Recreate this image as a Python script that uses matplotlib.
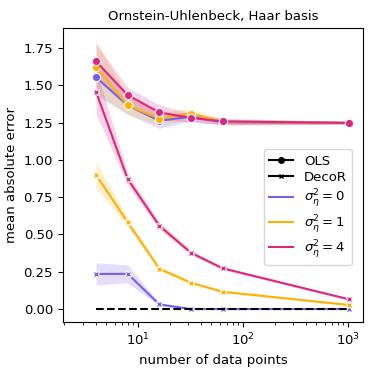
import matplotlib
matplotlib.use("Agg")
import matplotlib.pyplot as plt
from matplotlib.lines import Line2D
import numpy as np

plt.rcParams['font.size'] = 9.5

n_points = [4, 8, 16, 32, 64, 1024]
sigmas = ['0', '1', '4']
colors = ['#785EF0', '#FFB000', '#DC267F']

# OLS mean absolute error and band half-widths
ols_mean = {
    '0': [1.553, 1.365, 1.262, 1.29, 1.252, 1.248],
    '1': [1.62, 1.365, 1.276, 1.311, 1.255, 1.248],
    '4': [1.66, 1.434, 1.318, 1.282, 1.258, 1.248],
}
ols_err = {
    '0': [0.12, 0.06, 0.05, 0.03, 0.02, 0.01],
    '1': [0.17, 0.06, 0.05, 0.03, 0.02, 0.01],
    '4': [0.12, 0.05, 0.05, 0.03, 0.02, 0.01],
}

# DecoR mean absolute error and band half-widths
decor_mean = {
    '0': [0.235, 0.236, 0.031, 0.0, 0.0, 0.0],
    '1': [0.90, 0.581, 0.27, 0.176, 0.116, 0.027],
    '4': [1.456, 0.871, 0.558, 0.377, 0.273, 0.065],
}
decor_err = {
    '0': [0.075, 0.06, 0.01, 0.002, 0.002, 0.001],
    '1': [0.09, 0.03, 0.015, 0.01, 0.008, 0.005],
    '4': [0.15, 0.04, 0.025, 0.015, 0.01, 0.006],
}

baseline = [0.0] * len(n_points)

fig, ax = plt.subplots(figsize=(3.74, 3.74), dpi=100)
x = np.array(n_points)

for s, c in zip(sigmas, colors):
    for mean, err, mk in [(ols_mean, ols_err, 'o'), (decor_mean, decor_err, 'X')]:
        m = np.array(mean[s])
        e = np.array(err[s])
        ax.fill_between(x, m - e, m + e, color=c, alpha=0.2, linewidth=0)
        ax.plot(x, m, color=c, lw=1.5, marker=mk,
                markersize=6 if mk == 'o' else 5,
                markeredgecolor='white', markeredgewidth=0.8)

ax.plot(x, baseline, color='black', ls='--', lw=1.5)

ax.set_xscale('log')
ax.set_xlim(1.93, 1390)
ax.set_ylim(-0.087, 1.884)
ax.set_yticks([0, 0.25, 0.5, 0.75, 1.0, 1.25, 1.5, 1.75])
ax.set_xlabel('number of data points')
ax.set_ylabel('mean absolute error')
ax.set_title('Ornstein-Uhlenbeck, Haar basis', fontsize=9.5)

handles = [
    Line2D([], [], color='black', marker='o', markersize=4, label='OLS'),
    Line2D([], [], color='black', marker='x', markersize=3, label='DecoR'),
]
for s, c in zip(sigmas, colors):
    handles.append(Line2D([], [], color=c, lw=1.5,
                          label=r'$\sigma_\eta^2 = %s$' % s))
ax.legend(handles=handles, loc='center right', bbox_to_anchor=(0.985, 0.39),
          labelspacing=0.25, handlelength=1.8, borderpad=0.4)

fig.subplots_adjust(left=0.168, right=0.971, top=0.925, bottom=0.139)
fig.savefig('out.png', dpi=100)
